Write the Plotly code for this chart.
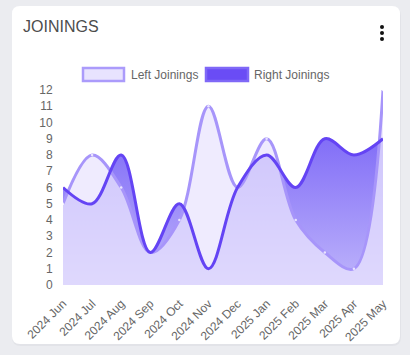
import plotly.graph_objects as go

months = ["2024 Jun", "2024 Jul", "2024 Aug", "2024 Sep", "2024 Oct", "2024 Nov",
          "2024 Dec", "2025 Jan", "2025 Feb", "2025 Mar", "2025 Apr", "2025 May"]
left_joinings = [5, 8, 6, 2, 4, 11, 6, 9, 4, 2, 1, 12]
right_joinings = [6, 5, 8, 2, 5, 1, 6, 8, 6, 9, 8, 9]
y_ticks = list(range(0, 13))

W, H = 410, 355
L, R, T, B = 63, 27, 90, 70
PW, PH = W - L - R, H - T - B


def xp(px):
    return (px - L) / PW


def yp(py):
    return (H - B - py) / PH


def rounded_path(x0, y0, x1, y1, r):
    pts = [
        ("M", xp(x0 + r), yp(y0)),
        ("L", xp(x1 - r), yp(y0)),
        ("Q", xp(x1), yp(y0), xp(x1), yp(y0 + r)),
        ("L", xp(x1), yp(y1 - r)),
        ("Q", xp(x1), yp(y1), xp(x1 - r), yp(y1)),
        ("L", xp(x0 + r), yp(y1)),
        ("Q", xp(x0), yp(y1), xp(x0), yp(y1 - r)),
        ("L", xp(x0), yp(y0 + r)),
        ("Q", xp(x0), yp(y0), xp(x0 + r), yp(y0)),
    ]
    s = ""
    for p in pts:
        s += p[0] + " " + " ".join(f"{v:.5f}" for v in p[1:]) + " "
    return s + "Z"


fig = go.Figure()

# Right fill (gradient) to zero
fig.add_trace(go.Scatter(
    x=months, y=right_joinings, mode="lines",
    line=dict(width=0, shape="spline", smoothing=1),
    fill="tozeroy",
    fillgradient=dict(type="vertical", start=0, stop=9,
                      colorscale=[[0, "rgb(190,180,251)"], [1, "rgb(130,110,247)"]]),
    hoverinfo="skip", showlegend=False,
))
# Left fill, semi-transparent light
fig.add_trace(go.Scatter(
    x=months, y=left_joinings, mode="lines",
    line=dict(width=0, shape="spline", smoothing=1),
    fill="tozeroy", fillcolor="rgba(234,228,254,0.75)",
    hoverinfo="skip", showlegend=False,
))
# Lines
fig.add_trace(go.Scatter(
    x=months, y=left_joinings, mode="lines+markers", name="Left Joinings",
    line=dict(width=3, shape="spline", smoothing=1, color="#a795fa"),
    marker=dict(size=2.5, color="rgba(255,255,255,0.75)", line=dict(width=0)),
    showlegend=False,
))
fig.add_trace(go.Scatter(
    x=months, y=right_joinings, mode="lines", name="Right Joinings",
    line=dict(width=3, shape="spline", smoothing=1, color="#6444f4"),
    showlegend=False,
))

shapes = [
    dict(type="path", xref="paper", yref="paper", layer="below",
         path=rounded_path(12, 7, 401, 346, 9), fillcolor="#e2e3e8", line=dict(width=0)),
    dict(type="path", xref="paper", yref="paper", layer="below",
         path=rounded_path(12, 6, 400, 344, 8), fillcolor="#ffffff", line=dict(width=0)),
    # legend boxes
    dict(type="rect", xref="paper", yref="paper", x0=xp(83), x1=xp(124), y0=yp(68), y1=yp(81),
         fillcolor="#e8e3fe", line=dict(color="#ab9bfb", width=2.5)),
    dict(type="rect", xref="paper", yref="paper", x0=xp(206), x1=xp(248), y0=yp(68), y1=yp(81),
         fillcolor="#6a4cf5", line=dict(color="#7f68f7", width=2.5)),
]
for cy in (27, 33, 39):
    shapes.append(dict(type="circle", xref="paper", yref="paper",
                       x0=xp(380), x1=xp(384), y0=yp(cy - 2), y1=yp(cy + 2),
                       fillcolor="#111111", line=dict(width=0)))

annotations = [
    dict(text="JOININGS", x=xp(21), y=yp(26), xref="paper", yref="paper",
         xanchor="left", yanchor="middle", showarrow=False,
         font=dict(family="Liberation Sans, Arial", size=16, color="#4d4d4d")),
    dict(text="Left Joinings", x=xp(129), y=yp(75), xref="paper", yref="paper",
         xanchor="left", yanchor="middle", showarrow=False,
         font=dict(family="Liberation Sans, Arial", size=12, color="#666666")),
    dict(text="Right Joinings", x=xp(252), y=yp(75), xref="paper", yref="paper",
         xanchor="left", yanchor="middle", showarrow=False,
         font=dict(family="Liberation Sans, Arial", size=12, color="#666666")),
]

fig.update_layout(
    width=W, height=H,
    margin=dict(l=L, r=R, t=T, b=B, pad=0),
    paper_bgcolor="#ebecf0", plot_bgcolor="rgba(0,0,0,0)",
    shapes=shapes, annotations=annotations, showlegend=False,
    font=dict(family="Liberation Sans, Arial", size=12, color="#666666"),
    xaxis=dict(type="category", range=[0, 11], showgrid=False, zeroline=False,
               showline=False, tickangle=-45, ticks="outside", ticklen=6,
               tickcolor="rgba(0,0,0,0)", fixedrange=True),
    yaxis=dict(range=[0, 12], tickvals=y_ticks, showgrid=False, zeroline=False,
               showline=False, ticks="outside", ticklen=7,
               tickcolor="rgba(0,0,0,0)", fixedrange=True),
)

fig.write_html("out.html", config={"displayModeBar": False},
               post_script="document.body.style.margin='0';document.body.style.overflow='hidden';"
                           "document.body.style.background='#ebecf0';")
